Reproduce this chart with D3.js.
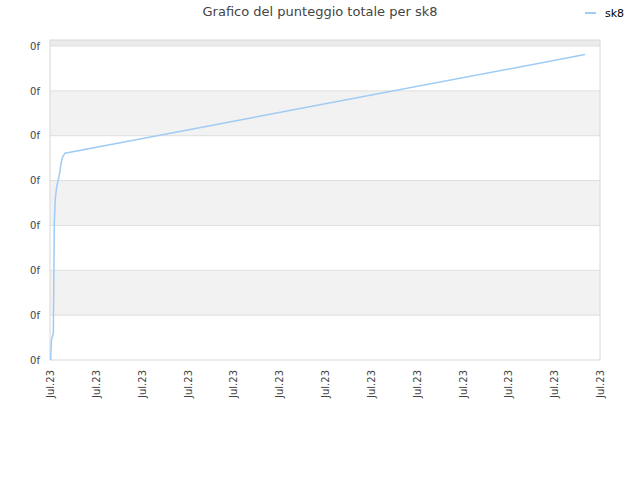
<!DOCTYPE html>
<html>
<head>
<meta charset="utf-8">
<script src="https://cdn.jsdelivr.net/npm/d3@7"></script>
<style>
  body { margin: 0; background: #fff; }
  svg { font-family: "DejaVu Sans", sans-serif; }
</style>
</head>
<body>
<svg id="chart" width="640" height="480"></svg>
<script>
// data (x in tick units, y in grid units)
var seriesName = "sk8";
var xVals = [0.015, 0.028, 0.05, 0.072, 0.081, 0.094, 0.116, 0.146, 0.212, 0.24, 0.277, 0.327, 11.673];
var yVals = [0, 0.41, 0.52, 0.60, 1.49, 3.05, 3.61, 3.86, 4.17, 4.39, 4.53, 4.61, 6.81];
var xTickLabels = ["Jul.23","Jul.23","Jul.23","Jul.23","Jul.23","Jul.23","Jul.23","Jul.23","Jul.23","Jul.23","Jul.23","Jul.23","Jul.23"];
var yTickLabels = ["0f","0f","0f","0f","0f","0f","0f","0f"];

var svg = d3.select("#chart");
var margin = {top: 40, right: 40, bottom: 120, left: 50};
var plotWidth = 640 - margin.left - margin.right;
var plotHeight = 480 - margin.top - margin.bottom;

var yMax = 7.134;
var xScale = d3.scaleLinear().domain([0, 12]).range([0, plotWidth]);
var yScale = d3.scaleLinear().domain([0, yMax]).range([plotHeight, 0]);

// title
svg.append("text")
  .attr("x", 320).attr("y", 16)
  .attr("text-anchor", "middle")
  .style("font-size", "13px")
  .style("fill", "#444")
  .text("Grafico del punteggio totale per sk8");

// legend
svg.append("line")
  .attr("x1", 585).attr("x2", 596).attr("y1", 13).attr("y2", 13)
  .style("stroke", "#9fcbf4").style("stroke-width", 2);
svg.append("text")
  .attr("x", 605).attr("y", 17)
  .style("font-size", "11px")
  .style("fill", "#000")
  .text(seriesName);

var plot = svg.append("g").attr("transform", "translate(" + margin.left + "," + margin.top + ")");

// alternating bands
var yTicks = d3.range(yTickLabels.length);
yTicks.slice(0, -1).forEach(function(t) {
  plot.append("rect")
    .attr("x", 0).attr("width", plotWidth)
    .attr("y", yScale(t + 1)).attr("height", yScale(t) - yScale(t + 1))
    .style("fill", t % 2 == 1 ? "#f2f2f2" : "#fff");
});
// top strip above last tick
plot.append("rect")
  .attr("x", 0).attr("width", plotWidth)
  .attr("y", 0).attr("height", yScale(yTicks.length - 1))
  .style("fill", "#ebebeb");

// grid lines
plot.selectAll("line.grid")
  .data(yTicks.slice(1))
  .enter().append("line")
  .attr("class", "grid")
  .attr("x1", 0).attr("x2", plotWidth)
  .attr("y1", function(d) { return yScale(d); })
  .attr("y2", function(d) { return yScale(d); })
  .style("stroke", "#dedede");

// frame
plot.append("rect")
  .attr("x", 0).attr("y", 0).attr("width", plotWidth).attr("height", plotHeight)
  .style("fill", "none").style("stroke", "#d8d8d8");

// y axis
var yAxis = d3.axisLeft(yScale)
  .tickValues(yTicks)
  .tickSize(0).tickPadding(10)
  .tickFormat(function(d, i) { return yTickLabels[i]; });
var yGroup = plot.append("g").call(yAxis);
yGroup.select(".domain").remove();
yGroup.selectAll("text")
  .style("font-size", "10px").style("fill", "#444")
  .style("font-family", "DejaVu Sans, sans-serif");

// x axis
var xAxis = d3.axisBottom(xScale)
  .tickValues(d3.range(xTickLabels.length))
  .tickSize(0).tickPadding(0)
  .tickFormat(function(d, i) { return xTickLabels[i]; });
var xGroup = plot.append("g")
  .attr("transform", "translate(0," + plotHeight + ")")
  .call(xAxis);
xGroup.select(".domain").remove();
xGroup.selectAll("text")
  .attr("transform", "rotate(-90)")
  .attr("x", -10).attr("y", 0).attr("dy", "0.35em")
  .style("text-anchor", "end")
  .style("font-size", "10px").style("fill", "#444")
  .style("font-family", "DejaVu Sans, sans-serif");

// series line
var line = d3.line()
  .x(function(d, i) { return xScale(xVals[i]); })
  .y(function(d, i) { return yScale(yVals[i]); });
plot.append("path")
  .datum(yVals)
  .attr("d", line)
  .style("fill", "none")
  .style("stroke", "#9fcbf4")
  .style("stroke-width", 1.5);
</script>
</body>
</html>
